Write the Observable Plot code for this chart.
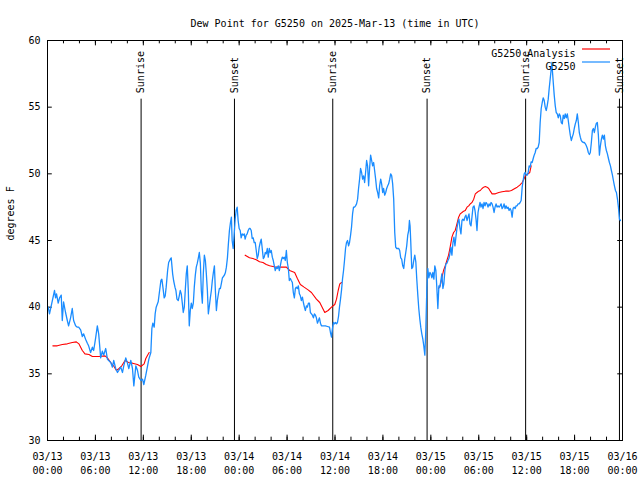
<!DOCTYPE html>
<html><head><meta charset="utf-8">
<script src="https://cdn.jsdelivr.net/npm/d3@7"></script>
<script src="https://cdn.jsdelivr.net/npm/@observablehq/plot@0.6"></script>
<style>body{margin:0;background:#fff} svg{display:block}</style>
</head><body><div id="chart"></div>
<script>
const titleText = "Dew Point for G5250 on 2025-Mar-13 (time in UTC)";
const yLabel = "degrees F";
const startISO = "2025-03-13T00:00:00Z";
const spanHours = 72;
const yTicks = [30, 35, 40, 45, 50, 55, 60];
const seriesNames = ["G5250 Analysis", "G5250"];
const seriesColors = ["#ff0000", "#1a8cff"];

// observations: hours since 03/13 00:00 UTC, dew point F
const obsHours = [
0.09,0.25,0.88,1.01,1.13,1.34,1.51,1.72,1.85,2.01,2.26,2.48,2.64,2.89,3.10,3.27,3.52,3.73,3.90,4.15,4.36,4.52,4.77,4.99,5.15,5.40,5.62,5.78,6.03,6.24,6.41,6.66,6.87,7.04,7.29,7.50,7.66,7.92,8.13,8.29,8.54,8.76,8.92,9.17,9.39,9.55,9.80,10.01,10.18,10.43,10.64,10.81,11.06,11.27,11.43,11.69,11.90,12.06,12.31,12.53,12.69,12.94,
13.07,13.19,13.36,13.48,13.61,13.86,14.04,14.20,14.32,14.45,14.61,14.74,14.86,15.04,15.17,15.37,15.49,15.67,15.79,15.96,16.08,16.21,16.37,16.50,16.62,16.75,16.88,17.00,17.13,17.25,17.38,17.50,17.63,17.75,17.88,18.01,18.13,18.26,18.38,18.51,18.63,18.76,18.89,19.01,19.14,19.26,19.39,19.51,19.64,19.77,19.89,20.02,20.14,20.27,20.39,20.52,20.64,20.77,20.90,21.02,21.15,21.27,21.40,21.52,21.65,21.78,21.90,22.03,22.15,22.28,22.40,22.53,22.65,22.78,22.91,23.03,23.12,23.25,23.37,23.50,23.62,23.75,23.87,24.00,24.13,
24.25,24.38,24.50,24.63,24.75,24.88,25.00,25.13,25.26,25.38,25.51,25.63,25.76,25.88,26.01,26.14,26.26,26.39,26.51,26.64,26.76,26.89,27.02,27.14,27.27,27.39,27.52,27.64,27.77,27.90,28.02,28.15,28.27,28.40,28.52,28.65,28.77,28.90,29.03,29.15,29.28,29.40,29.53,29.65,29.78,29.91,30.03,30.16,30.28,30.41,30.53,30.66,30.78,30.91,31.04,31.16,31.29,31.41,31.54,31.66,31.79,31.92,32.04,32.17,32.29,32.42,32.54,32.67,32.80,32.92,33.05,33.17,33.30,33.42,33.55,33.67,33.80,33.93,34.05,34.18,34.30,34.55,34.80,35.06,35.31,35.43,35.56,35.68,35.81,35.94,36.06,36.19,36.31,
36.44,36.56,36.69,36.82,36.94,37.07,37.19,37.32,37.44,37.57,37.70,37.82,37.95,38.07,38.20,38.32,38.45,38.57,38.70,38.83,38.95,39.08,39.20,39.33,39.46,39.58,39.71,39.83,39.96,40.08,40.21,40.33,40.46,40.59,40.71,40.84,40.96,41.09,41.21,41.34,41.47,41.59,41.72,41.84,41.97,42.09,42.22,42.35,42.47,42.60,42.72,42.85,42.97,43.10,43.22,43.35,43.48,43.60,43.73,43.85,43.98,44.10,44.23,44.35,44.48,44.61,44.73,44.86,44.98,45.11,45.23,45.32,45.40,45.49,45.61,45.74,45.86,45.99,46.12,46.24,46.37,46.49,46.62,46.74,46.87,47.00,47.12,47.25,47.37,47.50,47.62,47.75,47.88,48.00,48.13,48.25,48.38,48.50,48.63,48.75,48.88,49.01,49.13,49.26,49.38,49.51,49.63,49.76,49.89,50.01,50.14,50.26,50.39,50.51,50.64,50.77,50.89,51.02,51.14,51.27,51.39,51.52,51.65,51.77,51.90,52.02,52.15,52.27,52.40,52.53,52.65,52.78,52.90,53.03,53.15,53.28,53.41,53.53,53.66,53.78,53.91,54.03,54.16,54.28,54.41,54.54,54.66,54.79,54.91,55.04,55.16,55.29,55.42,55.54,55.67,55.79,55.92,56.04,56.17,56.29,56.42,56.55,56.67,56.80,56.92,57.05,57.17,57.30,57.42,57.55,57.68,57.80,57.93,58.05,58.18,58.30,58.43,58.56,58.68,58.81,58.93,59.06,59.18,59.31,59.44,59.56,59.69,59.81,59.94,60.06,60.19,60.31,60.44,60.56,60.69,60.82,60.94,61.07,61.19,61.32,61.44,61.57,61.69,61.82,61.95,62.07,62.20,62.32,62.45,62.57,62.70,62.82,62.95,63.08,63.16,63.24,63.33,63.45,63.58,63.70,63.83,63.96,64.08,64.21,64.33,64.46,64.58,64.71,64.83,64.96,65.09,65.21,65.34,65.46,65.59,65.71,65.84,65.96,66.09,66.22,66.34,66.47,66.59,66.72,66.84,66.97,67.10,67.22,67.35,67.47,67.60,67.72,67.85,67.97,68.10,68.23,68.35,68.48,68.60,68.73,68.85,68.98,69.11,69.23,69.36,69.48,69.61,69.73,69.86,69.98,70.11,70.24,70.36,70.49,70.61,70.74,70.86,70.99,71.12,71.24,71.37,71.49,71.62,71.74
];
const obsDew = [
40.0,39.5,41.25,40.7,41.0,40.3,40.7,40.9,39.0,40.4,39.6,39.0,38.6,39.2,39.9,39.0,38.6,38.5,38.5,38.3,37.8,38.0,37.6,37.3,37.1,36.6,37.0,36.75,37.7,38.6,38.0,36.2,36.7,36.4,36.9,36.1,36.0,35.85,35.5,36.0,35.4,35.1,35.25,35.5,35.1,35.6,36.2,35.8,35.4,36.0,35.4,34.1,35.6,35.25,34.75,34.5,34.6,34.2,34.9,35.6,36.1,36.6,
38.4,38.8,38.5,39.5,40.0,40.4,41.25,42.0,42.1,41.5,40.7,40.85,41.5,42.75,43.35,43.6,43.7,42.5,42.0,41.5,41.25,40.6,40.5,40.85,41.25,41.0,40.3,39.6,40.0,41.25,42.5,43.1,41.25,38.6,39.75,40.3,39.9,40.3,41.5,42.4,43.0,43.3,43.7,44.1,43.3,41.25,40.3,42.5,43.9,43.5,42.5,41.25,39.5,40.1,40.7,41.25,42.0,42.6,43.1,41.25,39.75,40.5,41.0,41.4,41.4,41.8,42.2,42.3,42.4,42.6,43.0,43.7,44.75,45.75,46.35,46.75,45.0,44.4,45.4,46.6,47.25,47.5,46.5,45.9,45.75,
45.2,45.5,45.4,45.5,45.1,45.4,45.5,45.75,45.9,45.9,45.75,45.15,45.2,44.85,44.85,44.25,43.65,43.9,44.5,44.85,45.1,44.4,43.65,43.75,44.1,44.0,44.4,43.75,44.4,44.1,44.25,43.75,43.5,43.1,42.75,43.0,42.9,43.1,42.75,43.1,43.5,43.75,43.65,43.75,43.5,44.25,43.35,42.9,42.0,42.15,42.0,41.85,41.1,40.7,41.4,41.5,41.4,41.6,41.0,40.85,40.5,40.75,40.35,40.0,39.75,40.1,40.0,40.3,40.3,39.6,39.5,39.4,39.2,39.5,39.4,39.2,38.8,39.0,39.2,38.8,38.6,38.6,38.6,38.55,38.5,38.1,37.75,38.4,38.85,38.75,38.85,38.75,38.85,
39.3,40.0,40.6,41.3,42.1,42.75,43.5,44.4,44.85,45.0,44.6,44.85,45.4,46.0,47.0,47.5,47.5,47.6,47.75,48.1,48.9,49.6,50.4,50.1,49.6,49.85,49.35,50.1,51.0,50.6,49.1,50.4,51.4,51.0,50.6,50.85,50.25,49.6,48.9,48.6,48.2,49.1,49.6,49.25,48.6,48.9,48.4,48.6,48.9,49.1,49.25,49.6,50.0,49.85,49.25,48.1,45.6,44.5,44.4,44.4,44.4,44.25,43.7,43.6,43.1,42.9,43.6,44.1,44.6,45.4,45.75,46.5,46.1,44.85,42.9,43.0,43.5,43.9,43.4,42.1,40.9,39.9,39.1,38.5,38.0,37.6,37.1,36.4,38.25,41.4,42.9,42.2,42.6,42.5,42.2,42.6,42.1,43.1,42.75,41.5,39.9,41.6,41.5,42.0,42.5,41.4,41.75,42.75,43.25,43.3,43.5,43.65,44.0,44.5,43.9,44.85,45.25,44.6,45.25,45.9,46.35,46.6,45.9,45.5,46.5,46.6,46.5,46.75,46.9,46.5,46.75,47.0,46.25,46.1,46.75,47.5,47.6,47.25,46.6,45.75,47.1,47.5,47.85,47.5,47.75,47.4,47.85,47.6,47.85,47.75,47.5,47.75,47.6,47.85,47.75,47.5,47.1,47.5,47.75,47.5,47.6,47.5,47.6,47.75,47.4,47.5,47.75,47.4,47.6,47.4,47.5,47.25,47.4,47.25,46.75,47.4,47.5,47.4,47.6,47.6,47.75,47.75,47.85,48.0,49.0,49.5,50.0,50.1,49.9,49.9,50.1,50.6,50.5,50.9,50.85,51.15,51.4,51.6,51.9,51.9,52.0,52.35,53.85,54.9,55.35,55.7,55.5,55.0,54.75,55.1,55.6,56.4,57.15,57.9,58.35,57.6,56.85,55.9,55.1,54.6,54.5,54.2,54.5,54.35,53.85,53.75,54.4,54.15,54.5,54.2,54.5,54.0,53.4,52.9,52.5,52.75,53.0,53.4,53.75,54.0,54.5,53.85,53.1,52.75,52.5,52.4,52.35,52.35,52.25,52.1,51.9,51.6,51.45,51.6,52.35,53.25,53.4,53.1,53.5,53.8,53.85,52.9,51.4,52.1,52.6,52.9,52.6,52.9,52.1,51.75,51.5,51.15,50.85,50.6,50.25,49.9,49.5,49.1,48.75,48.6,48.1,47.5,46.6,46.5
];

// analysis: null marks a gap between runs
const anaHours = [
0.67,1.22,1.85,2.48,3.10,3.61,3.93,4.36,4.69,5.19,5.62,6.45,7.20,7.50,7.92,8.33,8.63,8.96,9.30,9.71,10.14,10.64,11.27,11.69,12.10,12.31,12.53,12.73,
18.0,
24.75,25.29,25.72,26.14,26.55,26.98,27.39,27.81,28.23,28.65,29.28,29.91,30.32,30.95,31.29,31.66,32.13,32.63,33.05,33.67,34.09,34.39,34.72,35.14,35.56,35.97,36.19,36.40,36.60,36.82,
42.0,
48.97,49.17,49.38,49.59,49.80,50.01,50.22,50.42,50.64,50.85,51.05,51.27,51.48,51.68,51.90,52.11,52.31,52.53,52.74,52.94,53.15,53.37,53.57,53.78,53.99,54.19,54.41,54.62,54.82,55.04,55.25,55.45,55.67,55.88,56.08,56.51,56.92,57.34,57.76,58.09,58.52,58.81,59.14,59.44,59.65,59.86,60.19,60.39,60.56
];
const anaDew = [
37.1,37.1,37.2,37.25,37.35,37.4,37.25,36.75,36.5,36.45,36.3,36.3,36.35,36.2,35.85,35.55,35.25,35.4,35.6,36.0,35.85,35.8,35.7,35.55,35.75,36.15,36.4,36.6,
null,
43.9,43.7,43.65,43.55,43.4,43.35,43.2,43.1,43.05,43.0,43.0,43.0,42.75,42.6,42.15,41.7,41.5,41.3,41.1,40.6,40.35,40.0,39.6,39.75,40.0,40.2,40.6,41.25,41.75,41.85,
null,
41.4,41.6,42.2,42.75,43.1,43.5,43.9,44.5,45.25,45.6,45.75,46.25,46.75,47.0,47.1,47.2,47.25,47.5,47.6,47.75,47.85,48.1,48.5,48.6,48.7,48.75,48.9,49.0,49.05,49.0,48.9,48.7,48.5,48.5,48.5,48.6,48.65,48.7,48.7,48.75,48.9,49.0,49.15,49.35,49.6,49.9,50.0,50.1,50.6
];

const sunHours = [11.72, 23.41, 35.72, 47.53, 59.87, 71.62];
const sunLabels = ["Sunrise", "Sunset", "Sunrise", "Sunset", "Sunrise", "Sunset"];

const t0 = new Date(startISO).getTime();
const toDate = h => new Date(t0 + h * 3600e3);
const t1 = toDate(spanHours);
const obs = obsHours.map((h, i) => ({t: toDate(h), v: obsDew[i]}));
const ana = anaHours.map((h, i) => ({t: toDate(h), v: anaDew[i]}));
const sun = sunHours.map((h, i) => ({t: toDate(h), label: sunLabels[i]}));
const minorTicks = d3.utcHours(new Date(t0), new Date(t1.getTime() + 1), 2);
const majorTicks = d3.utcHours(new Date(t0), new Date(t1.getTime() + 1), 6);
const fmt = d3.utcFormat("%m/%d\n%H:%M");
const hr = 3600e3;

const chart = Plot.plot({
  width: 640, height: 480,
  marginLeft: 47, marginRight: 18, marginTop: 40, marginBottom: 40,
  style: {fontFamily: "'DejaVu Sans Mono', 'Liberation Mono', monospace", fontSize: "10px", background: "#fff"},
  x: {type: "utc", domain: [new Date(t0), t1]},
  y: {domain: [30, 60]},
  marks: [
    Plot.axisY({ticks: yTicks, tickSize: 0, tickPadding: 7, label: null, fontSize: 10}),
    Plot.axisX({ticks: majorTicks, tickSize: 0, tickPadding: 10, label: null, tickFormat: fmt, lineHeight: 1.35, fontSize: 10}),
    Plot.ruleY(yTicks, {y: d => d, x1: new Date(t0), x2: new Date(t0 + 0.6 * hr), stroke: "black"}),
    Plot.ruleY(yTicks, {y: d => d, x1: new Date(t1.getTime() - 0.6 * hr), x2: t1, stroke: "black"}),
    Plot.ruleX(minorTicks, {x: d => d, y1: 30, y2: 30.25, stroke: "black"}),
    Plot.ruleX(minorTicks, {x: d => d, y1: 59.75, y2: 60, stroke: "black"}),
    Plot.ruleX(majorTicks, {x: d => d, y1: 30, y2: 30.4, stroke: "black"}),
    Plot.ruleX(majorTicks, {x: d => d, y1: 59.6, y2: 60, stroke: "black"}),
    Plot.ruleX(sun, {x: "t", y1: 30, y2: 55.6, stroke: "black", strokeWidth: 1}),
    Plot.text(sun, {x: "t", y: 56.05, text: "label", rotate: -90, textAnchor: "start", lineAnchor: "middle", fontSize: 10}),
    Plot.line(ana, {x: "t", y: "v", stroke: seriesColors[0], strokeWidth: 1.1, defined: d => d.v != null}),
    Plot.line(obs, {x: "t", y: "v", stroke: seriesColors[1], strokeWidth: 1.3}),
    Plot.frame({stroke: "black"}),
    Plot.text([titleText], {frameAnchor: "top", dy: -21, fontSize: 10}),
    Plot.text([yLabel], {frameAnchor: "left", dx: -37, rotate: -90, fontSize: 10}),
    Plot.text([seriesNames[0]], {frameAnchor: "top-right", dx: -47, dy: 9, textAnchor: "end", fontSize: 10}),
    Plot.text([seriesNames[1]], {frameAnchor: "top-right", dx: -47, dy: 22, textAnchor: "end", fontSize: 10})
  ]
});
// legend swatches
const svg = d3.select(chart);
[[9, seriesColors[0]], [22, seriesColors[1]]].forEach(([dy, c]) => {
  svg.append("line").attr("x1", 640 - 18 - 40).attr("x2", 640 - 18 - 12)
    .attr("y1", 40 + dy).attr("y2", 40 + dy).attr("stroke", c).attr("stroke-width", 1.2);
});
document.getElementById("chart").appendChild(chart);
</script>
</body></html>
